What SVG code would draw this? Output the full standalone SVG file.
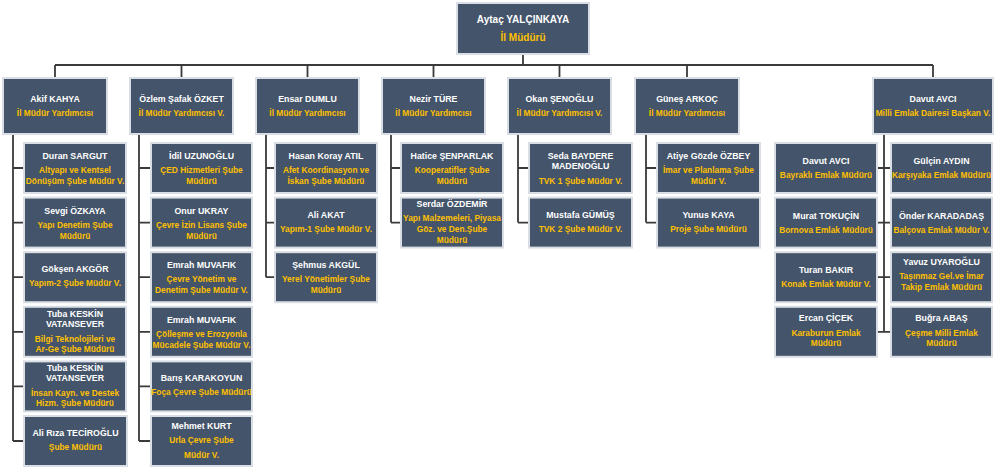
<svg xmlns="http://www.w3.org/2000/svg" width="1000" height="471" viewBox="0 0 1000 471">
<style>
.b{fill:#44546A;stroke:#D9DEE5;stroke-width:2}
text{font-family:"Liberation Sans",Arial,sans-serif;font-weight:bold;text-anchor:middle}
.n{fill:#FFFFFF;font-size:8.8px}
.t{fill:#FFC000;font-size:8.35px}
.L{fill:none;stroke:#3A3A3A;stroke-width:1.8}
</style>
<rect width="1000" height="471" fill="#FFFFFF"/>
<g id="connectors" class="L">
<path d="M523 54V65M55 65H933M55 65V78M181.5 65V78M307.5 65V78M433.5 65V78M559.5 65V78M687 65V78M933 65V78"/>
<path d="M13 134V441M13 168H24M13 222.6H24M13 277.2H24M13 331.8H24M13 386.4H24M13 441H24"/>
<path d="M139 134V441M139 168H151M139 222.6H151M139 277.2H151M139 331.8H151M139 386.4H151M139 441H151"/>
<path d="M266 134V277.2M266 168H275M266 222.6H275M266 277.2H275"/>
<path d="M391 134V222.6M391 168H401M391 222.6H401"/>
<path d="M518 134V222.6M518 168H529M518 222.6H529"/>
<path d="M646 134V222.6M646 168H657M646 222.6H657"/>
<path d="M884 134V332M877 168H891M877 222.6H891M877 277.2H891M877 331.8H891"/>
</g>
<g id="n-top"><rect class="b" x="457" y="3" width="132" height="51"/><text class="n" style="font-size:10px" x="523" y="23">Aytaç YALÇINKAYA</text><text class="t" style="font-size:10px" x="523" y="41">İl Müdürü</text></g>
<g id="n-l1-1"><rect class="b" x="3" y="78" width="104" height="56"/><text class="n" x="55" y="102">Akif KAHYA</text><text class="t" x="55" y="116">İl Müdür Yardımcısı</text></g>
<g id="n-l1-2"><rect class="b" x="130" y="78" width="103" height="56"/><text class="n" x="181.5" y="102">Özlem Şafak ÖZKET</text><text class="t" x="181.5" y="116">İl Müdür Yardımcısı V.</text></g>
<g id="n-l1-3"><rect class="b" x="256" y="78" width="103" height="56"/><text class="n" x="307.5" y="102">Ensar DUMLU</text><text class="t" x="307.5" y="116">İl Müdür Yardımcısı</text></g>
<g id="n-l1-4"><rect class="b" x="382" y="78" width="103" height="56"/><text class="n" x="433.5" y="102">Nezir TÜRE</text><text class="t" x="433.5" y="116">İl Müdür Yardımcısı</text></g>
<g id="n-l1-5"><rect class="b" x="508" y="78" width="103" height="56"/><text class="n" x="559.5" y="102">Okan ŞENOĞLU</text><text class="t" x="559.5" y="116">İl Müdür Yardımcısı V.</text></g>
<g id="n-l1-6"><rect class="b" x="635" y="78" width="104" height="56"/><text class="n" x="687" y="102">Güneş ARKOÇ</text><text class="t" x="687" y="116">İl Müdür Yardımcısı</text></g>
<g id="n-l1-7"><rect class="b" x="873" y="78" width="120" height="56"/><text class="n" x="933" y="102">Davut AVCI</text><text class="t" x="933" y="116">Milli Emlak Dairesi Başkan V.</text></g>

<g id="n-c1-1"><rect class="b" x="24" y="143" width="102" height="50"/><text class="n" x="75" y="159">Duran SARGUT</text><text class="t" x="75" y="173">Altyapı ve Kentsel</text><text class="t" x="75" y="184">Dönüşüm Şube Müdür V.</text></g>
<g id="n-c1-2"><rect class="b" x="24" y="197.6" width="102" height="50"/><text class="n" x="75" y="213.6">Sevgi ÖZKAYA</text><text class="t" x="75" y="227.6">Yapı Denetim Şube</text><text class="t" x="75" y="238.6">Müdürü</text></g>
<g id="n-c1-3"><rect class="b" x="24" y="252.2" width="102" height="50"/><text class="n" x="75" y="272.2">Gökşen AKGÖR</text><text class="t" x="75" y="286.2">Yapım-2 Şube Müdür V.</text></g>
<g id="n-c1-4"><rect class="b" x="24" y="306.8" width="102" height="50"/><text class="n" x="75" y="316.8">Tuba KESKİN</text><text class="n" x="75" y="326.8">VATANSEVER</text><text class="t" x="75" y="341.8">Bilgi Teknolojileri ve</text><text class="t" x="75" y="351.8">Ar-Ge Şube Müdürü</text></g>
<g id="n-c1-5"><rect class="b" x="24" y="361.4" width="102" height="50"/><text class="n" x="75" y="371.4">Tuba KESKİN</text><text class="n" x="75" y="381.4">VATANSEVER</text><text class="t" x="75" y="396.4">İnsan Kayn. ve Destek</text><text class="t" x="75" y="406.4">Hizm. Şube Müdürü</text></g>
<g id="n-c1-6"><rect class="b" x="24" y="416" width="103" height="50"/><text class="n" x="75.5" y="436">Ali Rıza TECİROĞLU</text><text class="t" x="75.5" y="450">Şube Müdürü</text></g>

<g id="n-c2-1"><rect class="b" x="151" y="143" width="101" height="50"/><text class="n" x="201.5" y="159">İdil UZUNOĞLU</text><text class="t" x="201.5" y="173">ÇED Hizmetleri Şube</text><text class="t" x="201.5" y="184">Müdürü</text></g>
<g id="n-c2-2"><rect class="b" x="151" y="197.6" width="101" height="50"/><text class="n" x="201.5" y="213.6">Onur UKRAY</text><text class="t" x="201.5" y="227.6">Çevre İzin Lisans Şube</text><text class="t" x="201.5" y="238.6">Müdürü</text></g>
<g id="n-c2-3"><rect class="b" x="151" y="252.2" width="101" height="50"/><text class="n" x="201.5" y="268.2">Emrah MUVAFIK</text><text class="t" x="201.5" y="282.2">Çevre Yönetim ve</text><text class="t" x="201.5" y="293.2">Denetim Şube Müdür V.</text></g>
<g id="n-c2-4"><rect class="b" x="151" y="306.8" width="101" height="50"/><text class="n" x="201.5" y="322.8">Emrah MUVAFIK</text><text class="t" x="201.5" y="336.8">Çölleşme ve Erozyonla</text><text class="t" x="201.5" y="347.8">Mücadele Şube Müdür V.</text></g>
<g id="n-c2-5"><rect class="b" x="151" y="361.4" width="101" height="50"/><text class="n" x="201.5" y="381.4">Barış KARAKOYUN</text><text class="t" x="201.5" y="395.4">Foça Çevre Şube Müdürü</text></g>
<g id="n-c2-6"><rect class="b" x="151" y="416" width="101" height="50"/><text class="n" x="201.5" y="429">Mehmet KURT</text><text class="t" x="201.5" y="443">Urla Çevre Şube</text><text class="t" x="201.5" y="458">Müdür V.</text></g>

<g id="n-c3-1"><rect class="b" x="275" y="143" width="102" height="50"/><text class="n" x="326" y="159">Hasan Koray ATIL</text><text class="t" x="326" y="173">Afet Koordinasyon ve</text><text class="t" x="326" y="184">İskan Şube Müdürü</text></g>
<g id="n-c3-2"><rect class="b" x="275" y="197.6" width="102" height="50"/><text class="n" x="326" y="217.6">Ali AKAT</text><text class="t" x="326" y="231.6">Yapım-1 Şube Müdür V.</text></g>
<g id="n-c3-3"><rect class="b" x="275" y="252.2" width="102" height="50"/><text class="n" x="326" y="268.2">Şehmus AKGÜL</text><text class="t" x="326" y="282.2">Yerel Yönetimler Şube</text><text class="t" x="326" y="293.2">Müdürü</text></g>

<g id="n-c4-1"><rect class="b" x="401" y="143" width="102" height="50"/><text class="n" x="452" y="159">Hatice ŞENPARLAK</text><text class="t" x="452" y="173">Kooperatifler Şube</text><text class="t" x="452" y="184">Müdürü</text></g>
<g id="n-c4-2"><rect class="b" x="401" y="197.6" width="102" height="50"/><text class="n" x="452" y="206.6">Serdar ÖZDEMİR</text><text class="t" x="452" y="220.6">Yapı Malzemeleri, Piyasa</text><text class="t" x="452" y="231.6">Göz. ve Den.Şube</text><text class="t" x="452" y="242.6">Müdürü</text></g>

<g id="n-c5-1"><rect class="b" x="529" y="143" width="103" height="50"/><text class="n" x="580.5" y="159">Seda BAYDERE</text><text class="n" x="580.5" y="169">MADENOĞLU</text><text class="t" x="580.5" y="184">TVK 1 Şube Müdür V.</text></g>
<g id="n-c5-2"><rect class="b" x="529" y="197.6" width="103" height="50"/><text class="n" x="580.5" y="217.6">Mustafa GÜMÜŞ</text><text class="t" x="580.5" y="231.6">TVK 2 Şube Müdür V.</text></g>

<g id="n-c6-1"><rect class="b" x="657" y="143" width="103" height="50"/><text class="n" x="708.5" y="159">Atiye Gözde ÖZBEY</text><text class="t" x="708.5" y="173">İmar ve Planlama Şube</text><text class="t" x="708.5" y="184">Müdür V.</text></g>
<g id="n-c6-2"><rect class="b" x="657" y="197.6" width="103" height="50"/><text class="n" x="708.5" y="217.6">Yunus KAYA</text><text class="t" x="708.5" y="231.6">Proje Şube Müdürü</text></g>

<g id="n-c7l-1"><rect class="b" x="775" y="143" width="102" height="50"/><text class="n" x="826" y="164">Davut AVCI</text><text class="t" x="826" y="178">Bayraklı Emlak Müdürü</text></g>
<g id="n-c7l-2"><rect class="b" x="775" y="197.6" width="102" height="50"/><text class="n" x="826" y="218.6">Murat TOKUÇİN</text><text class="t" x="826" y="232.6">Bornova Emlak Müdürü</text></g>
<g id="n-c7l-3"><rect class="b" x="775" y="252.2" width="102" height="50"/><text class="n" x="826" y="273.2">Turan BAKIR</text><text class="t" x="826" y="287.2">Konak Emlak Müdür V.</text></g>
<g id="n-c7l-4"><rect class="b" x="775" y="306.8" width="102" height="50"/><text class="n" x="826" y="320.8">Ercan ÇİÇEK</text><text class="t" x="826" y="335.8">Karaburun Emlak</text><text class="t" x="826" y="345.8">Müdürü</text></g>

<g id="n-c7r-1"><rect class="b" x="891" y="143" width="101" height="50"/><text class="n" x="941.5" y="164">Gülçin AYDIN</text><text class="t" x="941.5" y="178">Karşıyaka Emlak Müdürü</text></g>
<g id="n-c7r-2"><rect class="b" x="891" y="197.6" width="101" height="50"/><text class="n" x="941.5" y="218.6">Önder KARADADAŞ</text><text class="t" x="941.5" y="232.6">Balçova Emlak Müdür V.</text></g>
<g id="n-c7r-3"><rect class="b" x="891" y="252.2" width="101" height="50"/><text class="n" x="941.5" y="265.2">Yavuz UYAROĞLU</text><text class="t" x="941.5" y="279.2">Taşınmaz Gel.ve İmar</text><text class="t" x="941.5" y="290.2">Takip Emlak Müdürü</text></g>
<g id="n-c7r-4"><rect class="b" x="891" y="306.8" width="101" height="50"/><text class="n" x="941.5" y="320.8">Buğra ABAŞ</text><text class="t" x="941.5" y="335.8">Çeşme Milli Emlak</text><text class="t" x="941.5" y="345.8">Müdürü</text></g>
</svg>
